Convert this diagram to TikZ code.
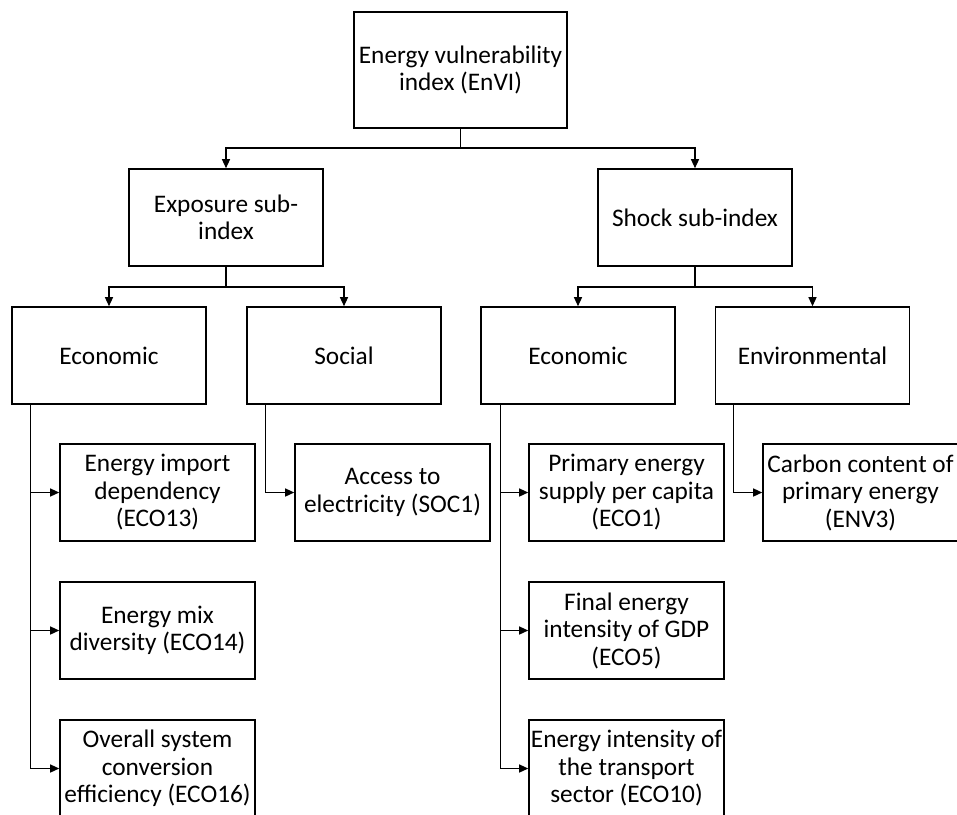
\documentclass[tikz,border=0pt]{standalone}
\usepackage{fontspec}
\setmainfont{Carlito}
\usetikzlibrary{arrows.meta}
\tikzset{
  box/.style={draw=black, line width=1.6pt, rectangle, inner sep=0pt,
    minimum width=194pt, minimum height=97pt, align=center,
    font=\fontsize{25.3}{27.5}\selectfont},
  arr/.style={line width=1.3pt, -{Triangle[length=9pt,width=8pt]}},
  ln/.style={line width=1.3pt}
}
\begin{document}
\begin{tikzpicture}[x=1pt,y=-1pt]
\clip (0,0) rectangle (957,814);
\fill[white] (0,0) rectangle (957,814);
% level 1
\node[box, minimum width=213pt, minimum height=116pt] (top) at (460.5,70) {Energy vulnerability\\index (EnVI)};
% level 2
\node[box] (exp) at (226,217.5) {Exposure sub-\\index};
\node[box] (shock) at (695,217.5) {Shock sub-index};
% level 3
\node[box] (eco1) at (109,355.5) {Economic};
\node[box] (soc) at (344,355.5) {Social};
\node[box] (eco2) at (578,355.5) {Economic};
\node[box] (env) at (812.5,355.5) {Environmental};
% leaves
\node[box, minimum width=195pt] (imp) at (157.5,492.5) {Energy import\\dependency\\(ECO13)};
\node[box, minimum width=195pt] (acc) at (392.5,492.5) {Access to\\electricity (SOC1)};
\node[box, minimum width=195pt] (prim) at (626.5,492.5) {Primary energy\\supply per capita\\(ECO1)};
\node[box, minimum width=195pt] (carb) at (860.5,492.5) {Carbon content of\\primary energy\\(ENV3)};
\node[box, minimum width=195pt] (mix) at (157.5,630.5) {Energy mix\\diversity (ECO14)};
\node[box, minimum width=195pt] (fin) at (626.5,630.5) {Final energy\\intensity of GDP\\(ECO5)};
\node[box, minimum width=195pt] (ovr) at (157.5,768.5) {Overall system\\conversion\\efficiency (ECO16)};
\node[box, minimum width=195pt] (tra) at (626.5,768.5) {Energy intensity of\\the transport\\sector (ECO10)};
% junctions
\coordinate (j1) at (460.5,148);
\coordinate (j2) at (226,287);
\coordinate (j3) at (695,287);
% connectors level1 -> level2
\draw[ln] (top.south) -- (j1);
\draw[arr] (j1) -| (exp.north);
\draw[arr] (j1) -| (shock.north);
% level2 -> level3
\draw[ln] (exp.south) -- (j2);
\draw[arr] (j2) -| (eco1.north);
\draw[arr] (j2) -| (soc.north);
\draw[ln] (shock.south) -- (j3);
\draw[arr] (j3) -| (eco2.north);
\draw[arr] (j3) -| (env.north);
% rails
\coordinate (r1) at ([xshift=19pt]eco1.south west);
\coordinate (r2) at ([xshift=19pt]soc.south west);
\coordinate (r3) at ([xshift=20pt]eco2.south west);
\coordinate (r4) at ([xshift=19pt]env.south west);
\draw[arr] (r1) |- (imp.west);
\draw[arr] (r1) |- (mix.west);
\draw[arr] (r1) |- (ovr.west);
\draw[arr] (r2) |- (acc.west);
\draw[arr] (r3) |- (prim.west);
\draw[arr] (r3) |- (fin.west);
\draw[arr] (r3) |- (tra.west);
\draw[arr] (r4) |- (carb.west);
\end{tikzpicture}
\end{document}
